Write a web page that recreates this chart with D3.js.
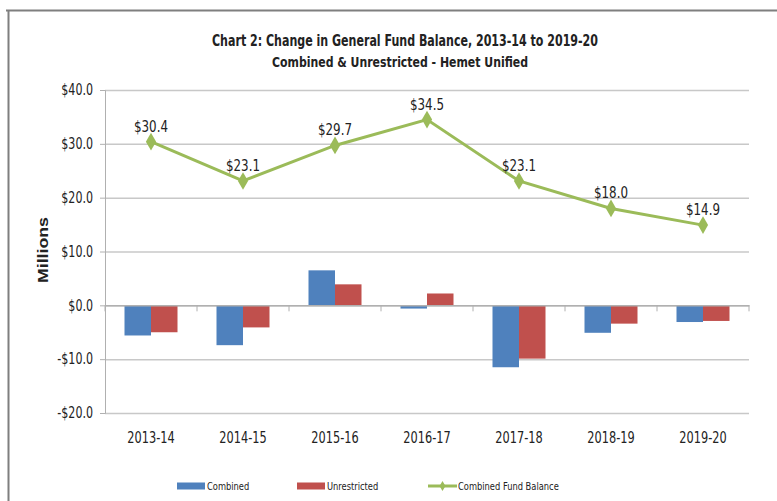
<!DOCTYPE html>
<html>
<head>
<meta charset="utf-8">
<script src="https://cdn.jsdelivr.net/npm/d3@7"></script>
<style>
  body { margin: 0; background: #fff; }
  svg { display: block; }
  text { font-family: "Liberation Sans Narrow", "DejaVu Sans Condensed", "Liberation Sans", sans-serif; fill: #222; }
</style>
</head>
<body>
<svg id="chart" width="777" height="501"></svg>
<script>
var years = ["2013-14", "2014-15", "2015-16", "2016-17", "2017-18", "2018-19", "2019-20"];
var combined = [-5.6, -7.4, 6.5, -0.6, -11.5, -5.1, -3.1];
var unrestricted = [-5.0, -4.1, 3.9, 2.2, -9.9, -3.4, -2.9];
var fundBalance = [30.4, 23.1, 29.7, 34.5, 23.1, 18.0, 14.9];
var yTicks = [-20, -10, 0, 10, 20, 30, 40];

var svg = d3.select("#chart");
var margin = { top: 90, left: 105, right: 28, bottom: 88 };
var width = 777 - margin.left - margin.right,
    height = 501 - margin.top - margin.bottom;

// squeeze text so it looks closer to a narrow font
function squeeze(sel, k) {
    sel.each(function () {
        var len = this.getComputedTextLength();
        d3.select(this).attr("textLength", len * k).attr("lengthAdjust", "spacingAndGlyphs");
    });
}

// frame of the chart box
svg.append("line").attr("x1", 6).attr("x2", 777).attr("y1", 10.5).attr("y2", 10.5)
    .attr("stroke", "#7f7f7f").attr("stroke-width", 2);
svg.append("line").attr("x1", 8.5).attr("x2", 8.5).attr("y1", 10).attr("y2", 501)
    .attr("stroke", "#7f7f7f").attr("stroke-width", 2);

svg.append("text").attr("x", 405).attr("y", 46).attr("text-anchor", "middle")
    .attr("font-size", 15).attr("font-weight", "bold")
    .attr("textLength", 386).attr("lengthAdjust", "spacingAndGlyphs")
    .text("Chart 2: Change in General Fund Balance, 2013-14 to 2019-20");
svg.append("text").attr("x", 400).attr("y", 67).attr("text-anchor", "middle")
    .attr("font-size", 14).attr("font-weight", "bold")
    .attr("textLength", 256).attr("lengthAdjust", "spacingAndGlyphs")
    .text("Combined & Unrestricted - Hemet Unified");

var g = svg.append("g").attr("transform", "translate(" + margin.left + "," + margin.top + ")");

var x = d3.scaleBand().domain(years).range([0, width]);
var y = d3.scaleLinear().domain([-20, 40]).range([height, 0]);
var xs = d3.scaleBand().domain(["c", "u"]).range([0, 53]);

// gridlines
g.append("g")
    .call(d3.axisLeft(y).tickValues(yTicks).tickSize(-width).tickFormat(""))
    .call(function (a) {
        a.select(".domain").remove();
        a.selectAll("line").attr("stroke", "#c8c8c8").attr("stroke-width", 1.5);
    });

// y axis
g.append("g")
    .call(d3.axisLeft(y).tickValues(yTicks).tickSize(5).tickPadding(7)
        .tickFormat(function (d) { return (d < 0 ? "-$" : "$") + Math.abs(d).toFixed(1); }))
    .call(function (a) {
        a.select(".domain").attr("stroke", "#b0b0b0");
        a.selectAll("line").attr("stroke", "#b0b0b0");
        a.selectAll("text").attr("font-size", 15).attr("fill", "#222").call(squeeze, 0.82);
    });

svg.append("text").attr("transform", "translate(48,250) rotate(-90)")
    .attr("text-anchor", "middle").attr("font-size", 14).attr("font-weight", "bold")
    .attr("textLength", 66).attr("lengthAdjust", "spacingAndGlyphs")
    .style("font-family", "'Liberation Sans', Arial, sans-serif")
    .text("Millions");

// bars
var groups = g.selectAll(".yr").data(years).enter().append("g")
    .attr("transform", function (d) { return "translate(" + (x(d) + (x.bandwidth() - 53) / 2) + ",0)"; });
groups.append("rect")
    .attr("x", xs("c")).attr("width", xs.bandwidth())
    .attr("y", function (d, i) { return y(Math.max(0, combined[i])); })
    .attr("height", function (d, i) { return Math.abs(y(combined[i]) - y(0)); })
    .attr("fill", "#4f81bd");
groups.append("rect")
    .attr("x", xs("u")).attr("width", xs.bandwidth())
    .attr("y", function (d, i) { return y(Math.max(0, unrestricted[i])); })
    .attr("height", function (d, i) { return Math.abs(y(unrestricted[i]) - y(0)); })
    .attr("fill", "#c0504d");

// x axis along zero
g.append("g").attr("transform", "translate(0," + y(0) + ")")
    .call(d3.axisBottom(x).tickSize(0).tickFormat(""))
    .call(function (a) { a.select(".domain").attr("stroke", "#b0b0b0").attr("stroke-width", 1.5); });
g.append("g").selectAll("line").data(d3.range(years.length + 1)).enter().append("line")
    .attr("x1", function (i) { return i * x.step(); }).attr("x2", function (i) { return i * x.step(); })
    .attr("y1", y(0)).attr("y2", y(0) + 6).attr("stroke", "#b0b0b0");

// category labels
g.append("g").selectAll("text").data(years).enter().append("text")
    .attr("x", function (d) { return x(d) + x.bandwidth() / 2; })
    .attr("y", height + 30).attr("text-anchor", "middle").attr("font-size", 15)
    .text(function (d) { return d; })
    .call(squeeze, 0.84);

// fund balance line
var line = d3.line()
    .x(function (d, i) { return x(years[i]) + x.bandwidth() / 2; })
    .y(function (d) { return y(d); });
g.append("path").datum(fundBalance).attr("d", line)
    .attr("fill", "none").attr("stroke", "#9bbb59").attr("stroke-width", 3);
g.selectAll(".mk").data(fundBalance).enter().append("path")
    .attr("d", d3.symbol(d3.symbolDiamond, 90))
    .attr("transform", function (d, i) { return "translate(" + (x(years[i]) + x.bandwidth() / 2) + "," + y(d) + ")"; })
    .attr("fill", "#9bbb59");
g.selectAll(".lbl").data(fundBalance).enter().append("text")
    .attr("x", function (d, i) { return x(years[i]) + x.bandwidth() / 2; })
    .attr("y", function (d) { return y(d) - 10; })
    .attr("text-anchor", "middle").attr("font-size", 15)
    .text(function (d) { return "$" + d.toFixed(1); })
    .call(squeeze, 0.88);

// legend
var legend = svg.append("g").attr("transform", "translate(0,486)");
var items = [
    { name: "Combined", color: "#4f81bd", x: 177, type: "bar" },
    { name: "Unrestricted", color: "#c0504d", x: 297, type: "bar" },
    { name: "Combined Fund Balance", color: "#9bbb59", x: 428, type: "line" }
];
items.forEach(function (it) {
    if (it.type === "bar") {
        legend.append("rect").attr("x", it.x).attr("y", -3.5).attr("width", 28).attr("height", 7).attr("fill", it.color);
    } else {
        legend.append("line").attr("x1", it.x).attr("x2", it.x + 29).attr("y1", 0).attr("y2", 0)
            .attr("stroke", it.color).attr("stroke-width", 3);
        legend.append("path").attr("d", d3.symbol(d3.symbolDiamond, 30)).attr("transform", "translate(" + (it.x + 14.5) + ",0)")
            .attr("fill", it.color);
    }
    legend.append("text").attr("x", it.x + 30).attr("y", 4).attr("font-size", 11).text(it.name)
        .call(squeeze, 0.84);
});
</script>
</body>
</html>
